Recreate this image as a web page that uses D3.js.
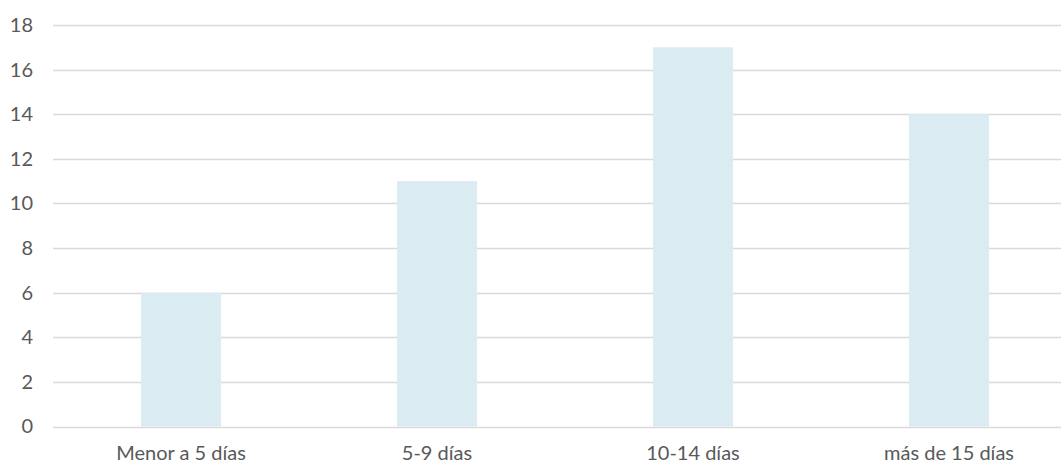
<!DOCTYPE html>
<html>
<head>
<meta charset="utf-8">
<script src="https://cdn.jsdelivr.net/npm/d3@7"></script>
<style>
  html, body { margin: 0; padding: 0; background: #ffffff; }
  svg { display: block; }
  text { font-family: Lato, "Open Sans", sans-serif; fill: #595959; }
</style>
</head>
<body>
<svg id="chart" width="1061" height="464"></svg>
<script>
// Duration buckets and their counts
const categories = ["Menor a 5 días", "5-9 días", "10-14 días", "más de 15 días"];
const counts = [6, 11, 17, 14];
const yTicks = [0, 2, 4, 6, 8, 10, 12, 14, 16, 18];

const svg = d3.select("#chart");
const plotLeft = 53, plotRight = 1077, plotTop = 25, plotBottom = 426.5;

const x = d3.scaleBand().domain(categories).range([plotLeft, plotRight]).paddingInner(0.6875).paddingOuter(0.34375);
const y = d3.scaleLinear().domain([0, 18]).range([plotBottom, plotTop]);

// Horizontal gridlines
svg.append("g")
  .selectAll("line")
  .data(yTicks)
  .join("line")
  .attr("x1", plotLeft)
  .attr("x2", 1061)
  .attr("y1", d => Math.round(y(d)) + 0.5)
  .attr("y2", d => Math.round(y(d)) + 0.5)
  .attr("stroke", "#d9d9d9")
  .attr("stroke-width", 1.5);

// Bars
svg.append("g")
  .selectAll("rect")
  .data(counts)
  .join("rect")
  .attr("x", (d, i) => x(categories[i]))
  .attr("width", x.bandwidth())
  .attr("y", d => y(d))
  .attr("height", d => plotBottom - y(d))
  .attr("fill", "#dbebf2");

// Y axis labels
const yAxis = d3.axisLeft(y).tickValues(yTicks).tickSize(0).tickPadding(20);
const gy = svg.append("g").attr("transform", `translate(${plotLeft},0)`).call(yAxis);
gy.select(".domain").remove();
gy.selectAll("text").style("font-size", "20px").style("font-family", "Lato, sans-serif").attr("fill", "#595959");

// X axis labels
const xAxis = d3.axisBottom(x).tickSize(0).tickPadding(19);
const gx = svg.append("g").attr("transform", `translate(0,${plotBottom})`).call(xAxis);
gx.select(".domain").remove();
gx.selectAll("text").style("font-size", "20px").style("font-family", "Lato, sans-serif").attr("fill", "#595959");
</script>
</body>
</html>
